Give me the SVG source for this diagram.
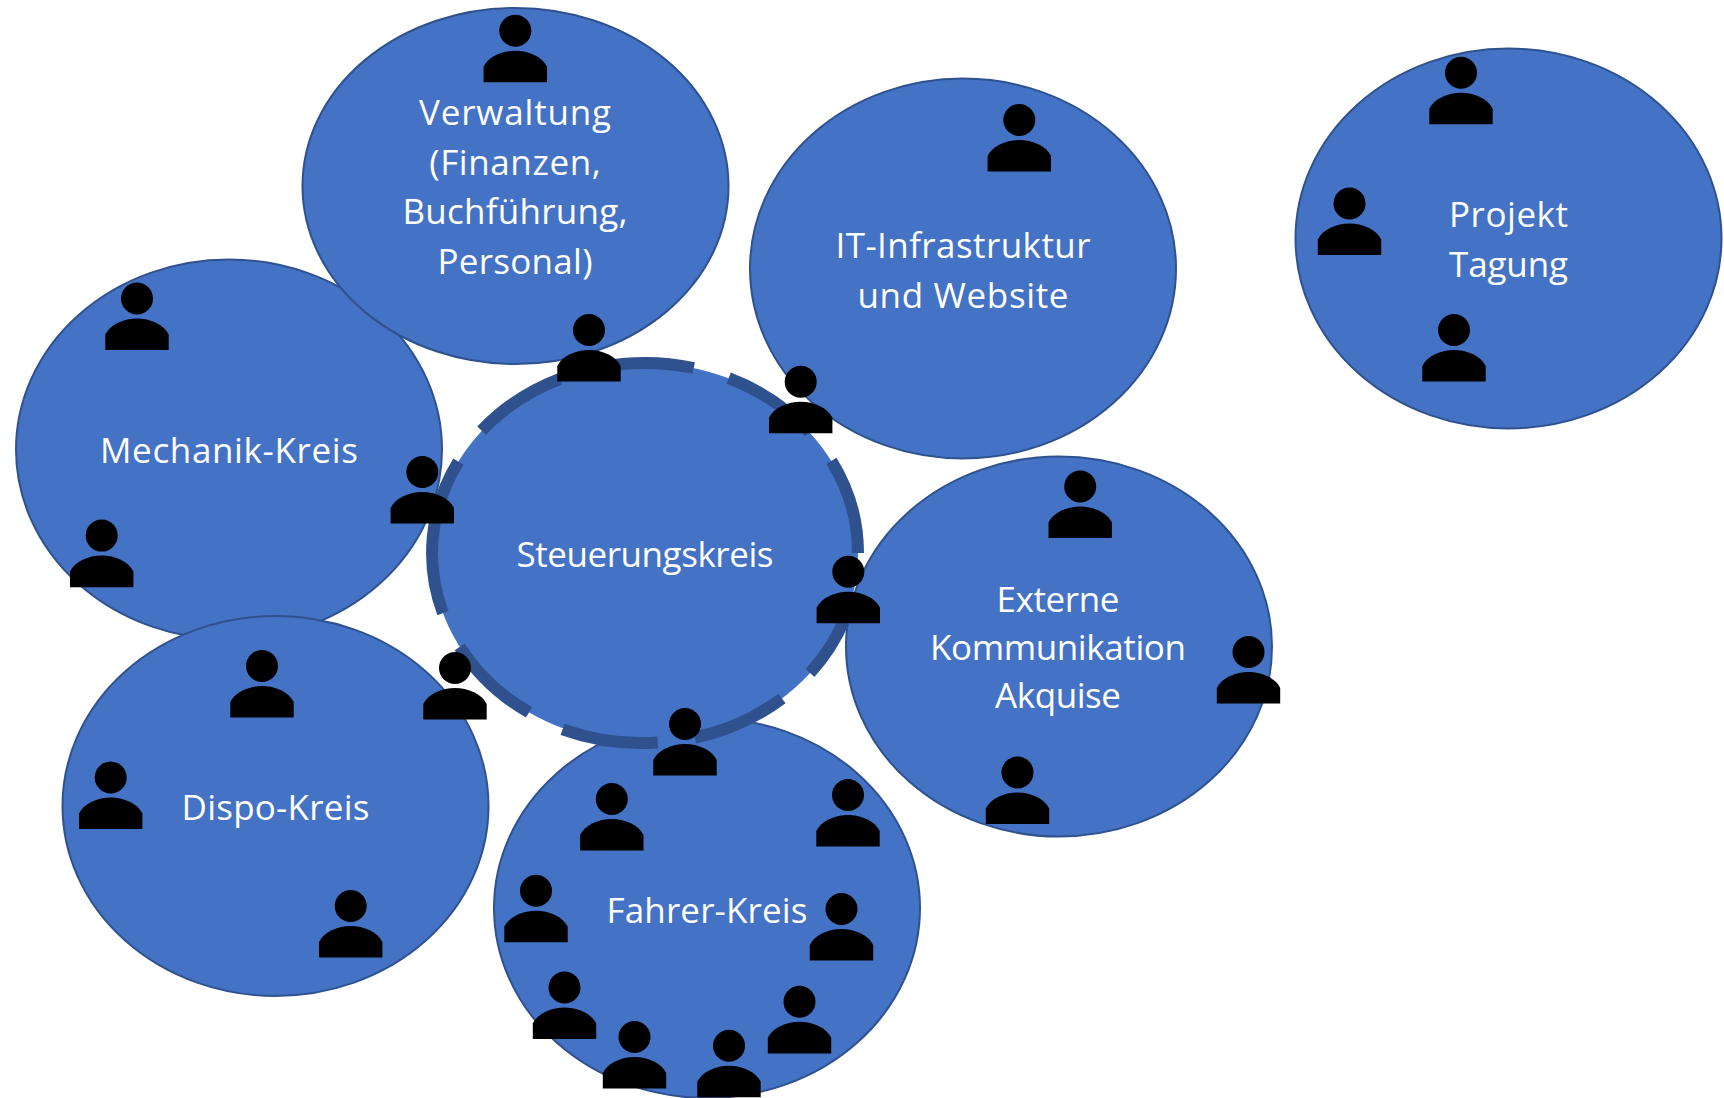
<svg xmlns="http://www.w3.org/2000/svg" width="1724" height="1098" viewBox="0 0 1724 1098">
<style>
.k{fill:#4472c4;stroke:#2f528f;stroke-width:2}
.d{fill:none;stroke:#2f528f;stroke-width:12}
.t{fill:#fff;font-family:"Open Sans","Noto Sans",sans-serif;font-size:35px;text-anchor:middle}
.p{fill:#000}
</style>
<defs>
<g id="person"><circle cx="0" cy="0" r="16"/><path d="M-31.7 51.6V36C-27 26-13 20 0 20S27 26 31.7 36V51.6Z"/></g>
</defs>
<rect width="1724" height="1098" fill="#fff"/>
<g id="mechanik"><ellipse class="k" cx="229" cy="449.5" rx="213" ry="190"/><text class="t" x="229" y="463" textLength="258">Mechanik-Kreis</text></g>
<g id="verwaltung"><ellipse class="k" cx="515.5" cy="186" rx="213" ry="178"/><text class="t" x="515" y="125" textLength="192">Verwaltung</text><text class="t" x="515" y="175" textLength="171.5">(Finanzen,</text><text class="t" x="515" y="224" textLength="225">Buchführung,</text><text class="t" x="515" y="274" textLength="155">Personal)</text></g>
<g id="it"><ellipse class="k" cx="963" cy="268.5" rx="213" ry="190"/><text class="t" x="963" y="258" textLength="255">IT-Infrastruktur</text><text class="t" x="963" y="307.500" textLength="211">und Website</text></g>
<g id="projekt"><ellipse class="k" cx="1508.5" cy="238.500" rx="213" ry="190"/><text class="t" x="1508.5" y="227" textLength="119">Projekt</text><text class="t" x="1508.5" y="276.500" textLength="119">Tagung</text></g>
<g id="dispo"><ellipse class="k" cx="275.5" cy="806" rx="213" ry="190"/><text class="t" x="275.5" y="820" textLength="188">Dispo-Kreis</text></g>
<g id="fahrer"><ellipse class="k" cx="707" cy="908" rx="213" ry="190"/><text class="t" x="707" y="923" textLength="201">Fahrer-Kreis</text></g>
<g id="extern"><ellipse class="k" cx="1059" cy="646.5" rx="213" ry="190"/><text class="t" x="1058" y="612" textLength="123">Externe</text><text class="t" x="1058" y="660" textLength="256">Kommunikation</text><text class="t" x="1058" y="708" textLength="126">Akquise</text></g>
<g id="steuerung">
<ellipse cx="645" cy="553" rx="213" ry="190" fill="#4472c4"/>
<path class="d" d="M693.7 368A213 190 0 0 0 600 367.3M560 378.8A213 190 0 0 0 481.6 430.6M458.4 461.6A213 190 0 0 0 443 613.2M459.7 646.9A213 190 0 0 0 529 712.4M562.6 729.3A213 190 0 0 0 657.7 742.6M695 737.7A213 190 0 0 0 782 698.5M810 673A213 190 0 0 0 844.6 619.3M858 553A213 190 0 0 0 831.4 460.9M809.4 432.3A213 190 0 0 0 728.7 378.2"/>
<text class="t" x="645" y="567" textLength="257">Steuerungskreis</text></g>
<g id="connectors"></g>
<g id="person-1" class="p"><use href="#person" x="515.3" y="30.7"/></g>
<g id="person-2" class="p"><use href="#person" x="1019.3" y="120"/></g>
<g id="person-3" class="p"><use href="#person" x="1461" y="72.7"/></g>
<g id="person-4" class="p"><use href="#person" x="1349.5" y="203.5"/></g>
<g id="person-5" class="p"><use href="#person" x="1454" y="330"/></g>
<g id="person-6" class="p"><use href="#person" x="137" y="298.5"/></g>
<g id="person-7" class="p"><use href="#person" x="101.7" y="535.6"/></g>
<g id="person-8" class="p"><use href="#person" x="262" y="666"/></g>
<g id="person-9" class="p"><use href="#person" x="110.7" y="777.5"/></g>
<g id="person-10" class="p"><use href="#person" x="350.7" y="906"/></g>
<g id="person-11" class="p"><use href="#person" x="611.8" y="799"/></g>
<g id="person-12" class="p"><use href="#person" x="848" y="795"/></g>
<g id="person-13" class="p"><use href="#person" x="536" y="890.7"/></g>
<g id="person-14" class="p"><use href="#person" x="841.5" y="909"/></g>
<g id="person-15" class="p"><use href="#person" x="564.5" y="987.5"/></g>
<g id="person-16" class="p"><use href="#person" x="799.5" y="1001.8"/></g>
<g id="person-17" class="p"><use href="#person" x="634.5" y="1037"/></g>
<g id="person-18" class="p"><use href="#person" x="729" y="1045.7"/></g>
<g id="person-19" class="p"><use href="#person" x="1080.2" y="486.5"/></g>
<g id="person-20" class="p"><use href="#person" x="1248.5" y="652"/></g>
<g id="person-21" class="p"><use href="#person" x="1017.500" y="772.5"/></g>
<g id="person-22" class="p"><use href="#person" x="589" y="330"/></g>
<g id="person-23" class="p"><use href="#person" x="800.7" y="381.7"/></g>
<g id="person-24" class="p"><use href="#person" x="422.3" y="472"/></g>
<g id="person-25" class="p"><use href="#person" x="848.3" y="571.7"/></g>
<g id="person-26" class="p"><use href="#person" x="455" y="668"/></g>
<g id="person-27" class="p"><use href="#person" x="685" y="724"/></g>
</svg>
